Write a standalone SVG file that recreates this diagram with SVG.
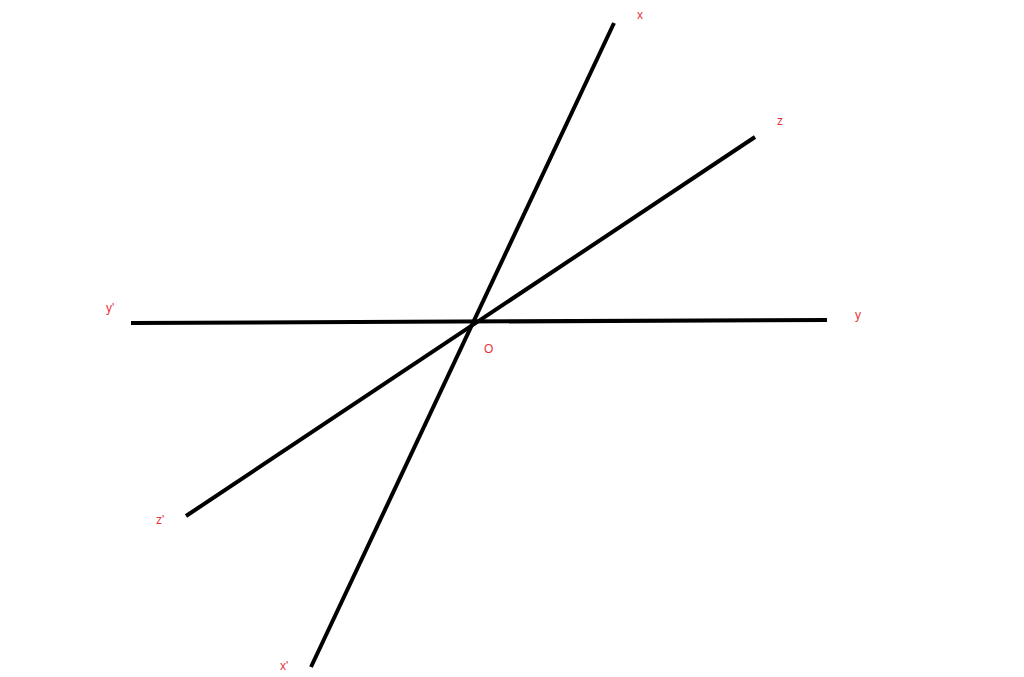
<svg xmlns="http://www.w3.org/2000/svg" width="1024" height="677" viewBox="0 0 1024 677">
<style>
.ax{stroke:#000;stroke-width:4;stroke-linecap:butt;fill:none}
.lb{font-family:"Liberation Sans",Arial,sans-serif;font-size:12px;fill:#e8333b}
</style>
<rect width="1024" height="677" fill="#fff"/>
<g id="connectors">
<line class="ax" x1="614" y1="23" x2="311" y2="667"/>
<line class="ax" x1="755" y1="137" x2="186" y2="516"/>
<line class="ax" x1="131" y1="323" x2="827" y2="320"/>
</g>
<g id="labels">
<text class="lb" x="637" y="19">x</text>
<text class="lb" x="777" y="125">z</text>
<text class="lb" x="106" y="312">y'</text>
<text class="lb" x="484" y="353">O</text>
<text class="lb" x="855" y="319">y</text>
<text class="lb" x="156" y="524">z'</text>
<text class="lb" x="280" y="670">x'</text>
</g>
</svg>
